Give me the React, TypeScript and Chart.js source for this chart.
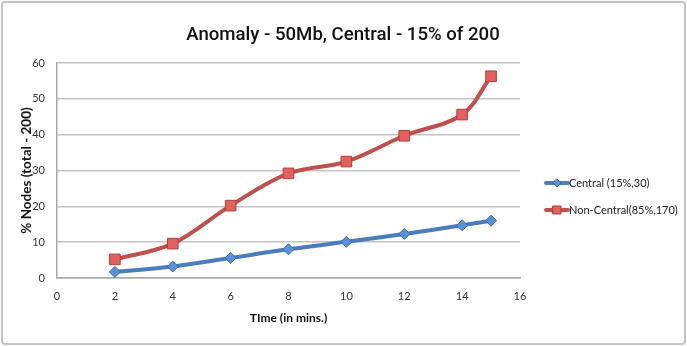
import React, { useEffect, useRef } from "react";
import { Chart, registerables } from "chart.js";

Chart.register(...registerables);

const titleText = "Anomaly - 50Mb, Central - 15% of 200";
const xTitle = "TIme (in mins.)";
const yTitle = "% Nodes (total - 200)";
const times = [2, 4, 6, 8, 10, 12, 14, 15];
const centralLabel = "Central (15%,30)";
const nonCentralLabel = "Non-Central(85%,170)";
const centralValues = [1.7, 3.2, 5.6, 8.0, 10.1, 12.3, 14.7, 16.0];
const nonCentralValues = [5.2, 9.6, 20.2, 29.2, 32.5, 39.7, 45.6, 56.3];

const FONT = "Lato, 'Open Sans', sans-serif";
const TITLE_FONT = "Roboto, 'Open Sans', sans-serif";

const framePlugin = {
  id: "frame",
  beforeDraw(chart: any) {
    const { ctx } = chart;
    ctx.save();
    ctx.fillStyle = "#ffffff";
    ctx.fillRect(0, 0, chart.width, chart.height);
    ctx.strokeStyle = "#c3c3c3";
    ctx.lineWidth = 2;
    ctx.beginPath();
    ctx.roundRect(2, 2, chart.width - 4, chart.height - 4, 3);
    ctx.stroke();
    ctx.fillStyle = "#111111";
    ctx.font = `500 18.6px ${TITLE_FONT}`;
    ctx.textAlign = "center";
    ctx.textBaseline = "alphabetic";
    ctx.fillText(titleText, 343, 40);
    ctx.restore();
  },
  afterDraw(chart: any) {
    const { ctx } = chart;
    ctx.save();
    const ys = [183, 210];
    chart.data.datasets.forEach((ds: any, i: number) => {
      const y = ys[i];
      ctx.strokeStyle = ds.borderColor;
      ctx.lineWidth = 4;
      ctx.lineCap = "round";
      ctx.beginPath();
      ctx.moveTo(546, y);
      ctx.lineTo(568, y);
      ctx.stroke();
      ctx.fillStyle = ds.pointBackgroundColor;
      ctx.strokeStyle = ds.pointBorderColor;
      ctx.lineWidth = 1;
      ctx.beginPath();
      if (i === 0) {
        ctx.moveTo(557, y - 4);
        ctx.lineTo(561, y);
        ctx.lineTo(557, y + 4);
        ctx.lineTo(553, y);
        ctx.closePath();
      } else {
        ctx.rect(553, y - 4, 8, 8);
      }
      ctx.fill();
      ctx.stroke();
      ctx.fillStyle = "#222222";
      ctx.font = `11px ${FONT}`;
      ctx.textAlign = "left";
      ctx.textBaseline = "middle";
      ctx.fillText(ds.label, 569, y);
    });
    ctx.restore();
  },
};

export default function App() {
  const ref = useRef<HTMLCanvasElement | null>(null);
  useEffect(() => {
    if (!ref.current) return;
    const chart = new Chart(ref.current, {
      type: "line",
      data: {
        datasets: [
          {
            label: centralLabel,
            data: times.map((t, i) => ({ x: t, y: centralValues[i] })),
            borderColor: "#4a7ebb",
            backgroundColor: "#4a7ebb",
            pointBackgroundColor: "#5b90d6",
            pointBorderColor: "#3d6cab",
            pointStyle: "rectRot",
            pointRadius: 5.5,
            pointBorderWidth: 1,
            borderWidth: 4,
            tension: 0.35,
          },
          {
            label: nonCentralLabel,
            data: times.map((t, i) => ({ x: t, y: nonCentralValues[i] })),
            borderColor: "#c0504d",
            backgroundColor: "#c0504d",
            pointBackgroundColor: "#e0615d",
            pointBorderColor: "#b23e3b",
            pointStyle: "rect",
            pointRadius: 7.5,
            pointBorderWidth: 1,
            borderWidth: 4,
            tension: 0.35,
          },
        ],
      },
      options: {
        animation: false,
        responsive: false,
        maintainAspectRatio: false,
        layout: { padding: { top: 63, left: 0, right: 167, bottom: 0 } },
        plugins: {
          legend: { display: false },
          title: { display: false },
          tooltip: { enabled: false },
        },
        scales: {
          x: {
            type: "linear",
            min: 0,
            max: 16,
            afterFit: (s: any) => {
              s.height = 68;
            },
            ticks: {
              stepSize: 2,
              padding: 12,
              color: "#333333",
              font: { family: FONT, size: 11 },
            },
            grid: { display: false, drawTicks: false },
            border: { display: true, color: "#a8a8a8", width: 1.5 },
            title: {
              display: true,
              text: xTitle,
              color: "#111111",
              font: { family: FONT, size: 12, weight: "bold" },
              padding: { top: 0, bottom: 21 },
            },
          },
          y: {
            min: 0,
            max: 60,
            afterFit: (s: any) => {
              s.width = 57;
            },
            ticks: {
              stepSize: 10,
              padding: 12,
              color: "#333333",
              font: { family: FONT, size: 11 },
            },
            grid: { color: "#c4c4c4", lineWidth: 1.5, drawTicks: false },
            border: { display: true, color: "#a8a8a8", width: 1.5 },
            title: {
              display: true,
              text: yTitle,
              color: "#111111",
              font: { family: FONT, size: 13.5, weight: "bold" },
              padding: { top: 19, bottom: 0 },
            },
          },
        },
      },
      plugins: [framePlugin],
    });
    return () => chart.destroy();
  }, []);
  return (
    <div style={{ position: "absolute", left: 0, top: 0, width: 687, height: 346 }}>
      <canvas ref={ref} width={687} height={346} style={{ display: "block" }} />
    </div>
  );
}
